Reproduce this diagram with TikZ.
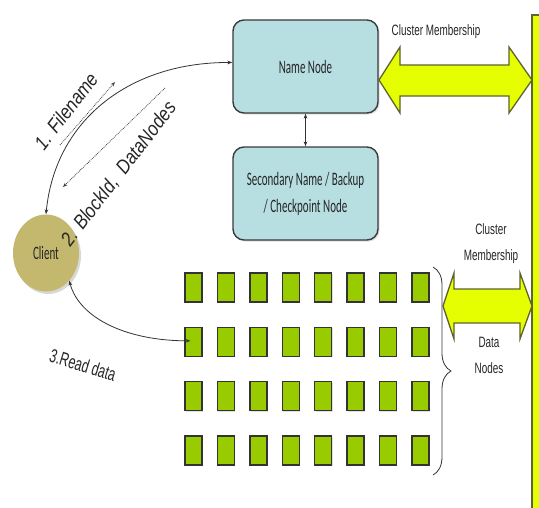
\documentclass[tikz,border=0pt]{standalone}
\usepackage{fontspec}
\setmainfont{Carlito}
\newfontfamily\boxfont[FakeStretch=0.58]{Carlito}
\newfontfamily\lblfont[FakeStretch=0.66]{Liberation Sans}
\newfontfamily\itlblfont[FakeStretch=0.85]{Liberation Sans}
\usetikzlibrary{shadows,decorations.pathreplacing,arrows.meta,shapes.geometric}
\definecolor{nnblue}{HTML}{B7DEE1}
\definecolor{boxedge}{HTML}{3A3A3A}
\definecolor{clientfill}{HTML}{C4B86E}
\definecolor{dngreen}{HTML}{99CC00}
\definecolor{ylw}{HTML}{E6FF00}
\definecolor{ylwedge}{HTML}{5E6330}
\tikzset{
  nbox/.style={draw=boxedge, line width=1.4pt, fill=nnblue, rounded corners=11pt,
    minimum width=145pt, minimum height=93pt, align=center,
    font={\boxfont\fontsize{19}{27}\selectfont}, text=black!85,
    drop shadow={opacity=0.25, shadow xshift=1.5pt, shadow yshift=-1.5pt}},
  clientnode/.style={ellipse, fill=clientfill, minimum width=66pt, minimum height=77pt,
    font={\boxfont\fontsize{19}{22}\selectfont}, text=black!85, inner sep=0pt,
    drop shadow={opacity=0.3, shadow xshift=2pt, shadow yshift=-2.5pt}},
  dnbox/.style={draw=black!80, line width=1.4pt, fill=dngreen,
    minimum width=17pt, minimum height=29pt, inner sep=0pt,
    drop shadow={opacity=0.25, shadow xshift=1pt, shadow yshift=-1pt}},
  fatarrow/.style={fill=ylw, draw=ylwedge, line width=1.3pt, line join=miter},
  lbl/.style={font={\lblfont\fontsize{15}{26}\selectfont}, text=black!85, align=center, inner sep=0pt},
  rotlbl/.style={font={\itlblfont\itshape\fontsize{20}{22}\selectfont}, text=black!85, inner sep=0pt},
  conn/.style={draw=black!80, line width=0.8pt,
    {Stealth[length=5pt,width=3.6pt]}-{Stealth[length=5pt,width=3.6pt]}},
  dotarrow/.style={draw=black!75, line width=0.8pt, densely dotted,
    -{Stealth[length=4.5pt,width=3.4pt]}}
}
\begin{document}
\begin{tikzpicture}[x=1pt,y=-1pt]
\useasboundingbox (0,0) rectangle (539,507);
\fill[white] (0,0) rectangle (539,507);

% vertical yellow bar
\path[fatarrow] (532,15) rectangle (570,540);

% name node and secondary
\node[nbox] (nn) at (305.5,66.5) {Name Node};
\node[nbox] (sec) at (305.5,193.5) {Secondary Name / Backup\\/ Checkpoint Node};
\draw[conn, line width=0.7pt] (nn.south) -- (sec.north);

% top fat double arrow
\path[fatarrow] (379,80) -- (400,47) -- (400,65) -- (509,65) -- (509,47) -- (532,80)
  -- (509,113) -- (509,96) -- (400,96) -- (400,113) -- cycle;
\node[lbl] (cm1) at (436,32) {Cluster Membership};

% client
\node[clientnode] (client) at (46,253) {Client};

% data nodes
\foreach \i in {0,...,7}{
  \foreach \j in {0,...,3}{
    \node[dnbox] (dn-\i-\j) at ({193.5+32.4*\i},{287.5+54.3*\j}) {};
  }
}

% brace
\draw[black!80, line width=0.8pt, decorate, decoration={brace, amplitude=18pt}]
  (433,267) -- (433,475);

% lower fat double arrow
\path[fatarrow] (443,306) -- (454,273) -- (454,289) -- (520,289) -- (520,273) -- (532,306)
  -- (520,339) -- (520,323) -- (454,323) -- (454,339) -- cycle;
\node[lbl] (cm2) at (491,244) {Cluster\\Membership};
\node[lbl] (dnl) at (489,355) {Data\\Nodes};

% client <-> name node
\draw[conn] (client.north) .. controls (55,120) and (130,62) .. ([yshift=4pt]nn.west);
% client <-> data node
\draw[conn] (client.-50) .. controls (80,320) and (130,341) .. ([xshift=-3pt,yshift=1pt]dn-0-1.center);

% dotted arrows
\coordinate (f1s) at (60,145);
\coordinate (f1e) at (115,82);
\coordinate (f2s) at (165,88);
\coordinate (f2e) at (63,187);
\draw[dotarrow] (f1s) -- (f1e);
\draw[dotarrow] (f2s) -- (f2e);

% rotated labels
\node[rotlbl, rotate=52.5] (l1) at (66,111) {1. Filename};
\node[rotlbl, rotate=52.5] (l2) at (119,174) {2. BlockId,\ \ DataNodes};
\node[font={\lblfont\fontsize{19}{22}\selectfont}, text=black!85, inner sep=0pt, rotate=-17] (l3) at (83,365) {3.Read data};
\end{tikzpicture}
\end{document}
